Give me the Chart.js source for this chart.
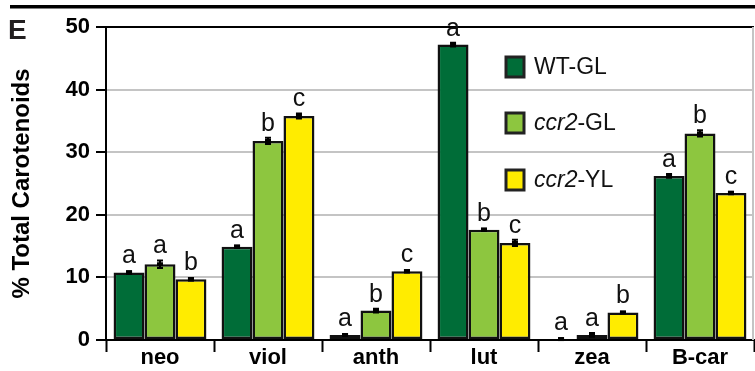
<!DOCTYPE html>
<html>
<head>
<meta charset="utf-8">
<script src="https://cdn.jsdelivr.net/npm/chart.js@4"></script>
<style>
  html, body { margin: 0; padding: 0; background: #fff; }
  #wrap { width: 755px; height: 371px; }
</style>
</head>
<body>
<div id="wrap"><canvas id="chart1" width="755" height="371"></canvas></div>
<script>
// categories and series
const categories = ['neo', 'viol', 'anth', 'lut', 'zea', 'B-car'];
const seriesNames = ['WT-GL', 'ccr2-GL', 'ccr2-YL'];
const wtGL = [10.8, 14.9, 0.8, 47.2, 0.15, 26.2];
const ccr2GL = [12.1, 31.8, 4.7, 17.6, 0.8, 33.0];
const ccr2YL = [9.7, 35.8, 11.0, 15.5, 4.4, 23.5];
const wtErr = [0.2, 0.2, 0.1, 0.3, 0.1, 0.3];
const glErr = [0.6, 0.5, 0.3, 0.2, 0.3, 0.5];
const ylErr = [0.2, 0.4, 0.2, 0.5, 0.1, 0.2];
const wtLetters = ['a', 'a', 'a', 'a', 'a', 'a'];
const glLetters = ['a', 'b', 'b', 'b', 'a', 'b'];
const ylLetters = ['b', 'c', 'c', 'c', 'b', 'c'];
const yTicks = [0, 10, 20, 30, 40, 50];

const colors = ['#006d38', '#8dc63f', '#ffec00'];
const FONT = '"Liberation Sans", Arial, sans-serif';

const errors = [wtErr, glErr, ylErr];
const letters = [wtLetters, glLetters, ylLetters];

// error bars + significance letters, drawn from the bar elements
const errorBarPlugin = {
  id: 'errorBars',
  afterDatasetsDraw(chart) {
    const ctx = chart.ctx;
    const y = chart.scales.y;
    ctx.save();
    chart.data.datasets.forEach((ds, i) => {
      const meta = chart.getDatasetMeta(i);
      meta.data.forEach((bar, j) => {
        const v = ds.data[j];
        const e = errors[i][j];
        const yTop = y.getPixelForValue(v + e);
        const yBot = y.getPixelForValue(v - e);
        const yMid = y.getPixelForValue(v);
        ctx.strokeStyle = '#000';
        ctx.lineWidth = 2;
        ctx.beginPath();
        ctx.moveTo(bar.x, yTop);
        ctx.lineTo(bar.x, yBot);
        ctx.moveTo(bar.x - 3, yTop);
        ctx.lineTo(bar.x + 3, yTop);
        ctx.moveTo(bar.x - 3, yBot);
        ctx.lineTo(bar.x + 3, yBot);
        ctx.stroke();
        ctx.fillStyle = '#000';
        ctx.fillRect(bar.x - 3, yMid - 2, 6, 4);

        ctx.font = '25px ' + FONT;
        ctx.textAlign = 'center';
        ctx.textBaseline = 'alphabetic';
        ctx.fillStyle = '#111';
        ctx.fillText(letters[i][j], bar.x, Math.min(yTop, yMid - 2) - 7);
      });
    });
    ctx.restore();
  }
};

// figure decorations: panel letter, top rule, right frame line, legend
const decorPlugin = {
  id: 'decor',
  beforeDatasetsDraw(chart) {
    const ctx = chart.ctx;
    const area = chart.chartArea;
    ctx.save();
    ctx.strokeStyle = '#c4c4c4';
    ctx.lineWidth = 2;
    ctx.beginPath();
    ctx.moveTo(area.right - 1, area.top);
    ctx.lineTo(area.right - 1, area.bottom);
    ctx.stroke();
    ctx.restore();
  },
  afterDraw(chart) {
    const ctx = chart.ctx;
    ctx.save();
    ctx.fillStyle = '#000';
    ctx.fillRect(10, 5, 745, 3.5);

    ctx.fillStyle = '#231f20';
    ctx.font = 'bold 28px ' + FONT;
    ctx.textBaseline = 'alphabetic';
    ctx.textAlign = 'left';
    ctx.fillText('E', 8, 39);

    // legend
    const rows = [67, 123, 180];
    seriesNames.forEach((name, i) => {
      const cy = rows[i];
      ctx.fillStyle = colors[i];
      ctx.fillRect(506, cy - 10, 18, 20);
      ctx.strokeStyle = '#222';
      ctx.lineWidth = 3;
      ctx.strokeRect(506, cy - 10, 18, 20);

      ctx.fillStyle = '#111';
      ctx.textBaseline = 'middle';
      let x = 534;
      if (name.startsWith('ccr2')) {
        ctx.font = 'italic 23px ' + FONT;
        ctx.fillText('ccr2', x, cy + 1);
        x += ctx.measureText('ccr2').width;
        ctx.font = '23px ' + FONT;
        ctx.fillText(name.slice(4), x, cy + 1);
      } else {
        ctx.font = '23px ' + FONT;
        ctx.fillText(name, x, cy + 1);
      }
    });
    ctx.restore();
  }
};

const config = {
  type: 'bar',
  data: {
    labels: categories,
    datasets: [
      { label: seriesNames[0], data: wtGL, backgroundColor: colors[0] },
      { label: seriesNames[1], data: ccr2GL, backgroundColor: colors[1] },
      { label: seriesNames[2], data: ccr2YL, backgroundColor: colors[2] }
    ].map(ds => Object.assign(ds, {
      borderColor: '#111',
      borderWidth: 2.5,
      borderSkipped: false,
      categoryPercentage: 0.86,
      barPercentage: 1.0
    }))
  },
  options: {
    responsive: false,
    animation: false,
    layout: { padding: { left: 0, right: 1, top: 27, bottom: 0 } },
    plugins: {
      legend: { display: false },
      tooltip: { enabled: false }
    },
    scales: {
      x: {
        grid: {
          offset: true,
          drawOnChartArea: false,
          drawTicks: true,
          tickLength: 12,
          tickColor: '#000',
          tickWidth: 2
        },
        border: { display: true, color: '#000', width: 2 },
        ticks: {
          color: '#000',
          padding: -7,
          font: { family: FONT, size: 22, weight: 'bold' }
        },
        afterFit(scale) { scale.height = 31; }
      },
      y: {
        min: 0,
        max: 50,
        afterBuildTicks(scale) { scale.ticks = yTicks.map(v => ({ value: v })); },
        grid: {
          color: ctx => (ctx.tick && ctx.tick.value === 50) ? '#000' : '#c4c4c4',
          lineWidth: 2,
          tickLength: 10,
          tickColor: '#000',
          tickWidth: 2
        },
        border: { display: true, color: '#000', width: 2 },
        ticks: {
          color: '#000',
          padding: 6,
          font: { family: FONT, size: 22, weight: 'bold' }
        },
        title: {
          display: true,
          text: '% Total Carotenoids',
          color: '#000',
          padding: { top: 8, bottom: 0 },
          font: { family: FONT, size: 24, weight: 'bold' }
        },
        afterFit(scale) { scale.width = 106; }
      }
    }
  },
  plugins: [decorPlugin, errorBarPlugin]
};

new Chart(document.getElementById('chart1'), config);
</script>
</body>
</html>
